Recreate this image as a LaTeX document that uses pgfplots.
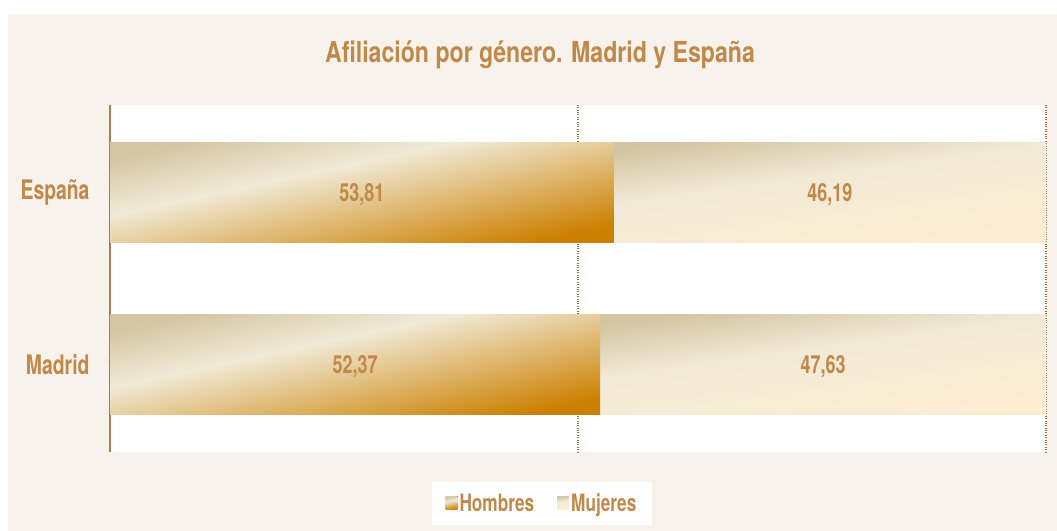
\documentclass[border=0pt]{standalone}
\usepackage{pgfplots}
\pgfplotsset{compat=1.18}
\usepackage{fontspec}
\setmainfont{TeX Gyre Heros}[FakeStretch=0.72]
\newfontfamily\titlefont{TeX Gyre Heros}[FakeStretch=0.80]
\definecolor{txt}{HTML}{C0894A}
\definecolor{bg}{HTML}{F7F3EC}
\definecolor{axc}{HTML}{A87E50}
\definecolor{gridc}{HTML}{9C7448}
\definecolor{hA}{HTML}{D3C6A3}
\definecolor{hB}{HTML}{F0EAD6}
\definecolor{hC}{HTML}{CC8000}
\definecolor{mA}{HTML}{D2C5A1}
\definecolor{mB}{HTML}{F1EAD7}
\definecolor{mC}{HTML}{FDEED2}
\pgfdeclarehorizontalshading{homb}{100bp}{color(0bp)=(hA); color(25bp)=(hA); color(41.3bp)=(hB); color(75bp)=(hC); color(100bp)=(hC)}
\pgfdeclarehorizontalshading{muje}{100bp}{color(0bp)=(mA); color(25bp)=(mA); color(43.7bp)=(mB); color(75bp)=(mC); color(100bp)=(mC)}
\pgfplotsset{
  base/.style={
    at={(110bp,79bp)}, anchor=south west,
    scale only axis, width=936bp, height=347bp,
    xmin=0, xmax=100, ymin=-0.503, ymax=1.503,
    xbar stacked, bar width=100bp,
  },
  hom/.style={draw=none, shade, shading=homb, shading angle=-78},
  muj/.style={draw=none, shade, shading=muje, shading angle=-82},
}
\newcommand\vlab[3]{\node[anchor=base, yshift=-9bp, text=txt, font=\fontsize{25}{28}\selectfont\bfseries] at (axis cs:#1,#2) {#3};}
\begin{document}
\begin{tikzpicture}
\fill[white] (0bp,0bp) rectangle (1057bp,531bp);
\fill[bg] (8bp,0bp) rectangle (1057bp,517bp);
\node[anchor=base, text=txt, font=\titlefont\fontsize{29}{32}\selectfont\bfseries] at (540bp,468bp) {Afiliación por género. Madrid y España};
% axis with frame, grid, legend and the España bar
\begin{axis}[
  base,
  axis background/.style={fill=white},
  axis y line*=left, axis x line*=bottom,
  y axis line style={draw=axc, line width=1.3bp},
  x axis line style={draw=none},
  ytick={0,1}, yticklabels={Madrid,España},
  yticklabel style={font=\fontsize{27}{30}\selectfont\bfseries, text=txt, xshift=-17bp},
  xtick={50,100}, xticklabels={},
  major tick length=0pt,
  xmajorgrids, grid style={dotted, draw=gridc, line width=1.4bp},
  legend style={at={(0.4615,-0.148)}, anchor=center, draw=none, fill=white,
    legend columns=2, font=\fontsize{24}{26}\selectfont\bfseries, text=txt,
    inner xsep=14bp, inner ysep=10bp,
    nodes={inner xsep=2bp, inner ysep=2bp},
    /tikz/every even column/.append style={column sep=21bp},
    legend cell align=left},
  legend image code/.code={\fill[#1] (0bp,-6bp) rectangle (12bp,7bp);},
]
\addplot[hom] coordinates {(53.81,1)};
\addplot[muj] coordinates {(46.19,1)};
\legend{Hombres, Mujeres}
\end{axis}
% second axis, same geometry, for the Madrid bar and all value labels
\begin{axis}[
  base, hide axis,
  after end axis/.code={
    \vlab{26.905}{1}{53,81}
    \vlab{76.905}{1}{46,19}
    \vlab{26.185}{0}{52,37}
    \vlab{76.185}{0}{47,63}
  },
]
\addplot[hom] coordinates {(52.37,0)};
\addplot[muj] coordinates {(47.63,0)};
\end{axis}
\end{tikzpicture}
\end{document}
